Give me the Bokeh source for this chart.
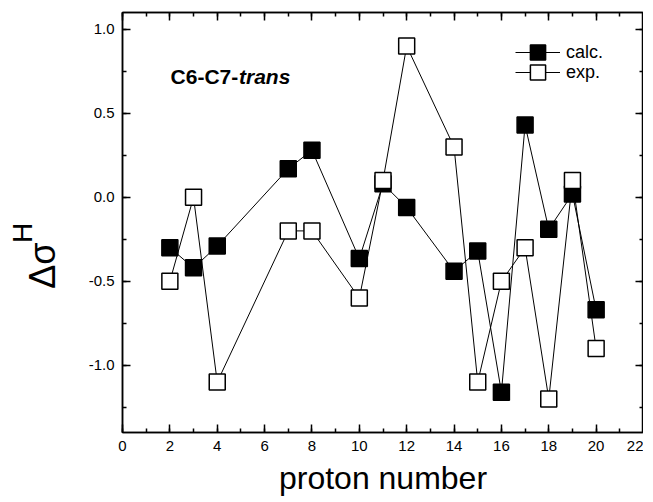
import math
from bokeh.plotting import figure
from bokeh.layouts import row
from bokeh.models import (LinearAxis, Label, Legend, LegendItem, Range1d,
                          SingleIntervalTicker, NumeralTickFormatter, CustomJSTickFormatter)
from bokeh.core.properties import value
from bokeh.embed import file_html
from bokeh.resources import INLINE

proton = [2, 3, 4, 7, 8, 10, 11, 12, 14, 15, 16, 17, 18, 19, 20]
calc = [-0.30, -0.42, -0.29, 0.17, 0.28, -0.365, 0.08, -0.06, -0.44, -0.32, -1.16, 0.43, -0.19, 0.02, -0.67]
exp_ = [-0.50, 0.00, -1.10, -0.20, -0.20, -0.60, 0.10, 0.90, 0.30, -1.10, -0.50, -0.30, -1.20, 0.10, -0.90]
x_tick_step = 2
y_tick_step = 0.5

FONT = "Liberation Sans"
LABEL_W = 70   # width of the strip that holds the y-axis title

p = figure(frame_width=521, frame_height=420, output_backend="svg", toolbar_location=None,
           x_range=Range1d(0, 22), y_range=Range1d(-1.4, 1.1),
           min_border_left=122 - LABEL_W, min_border_top=12, min_border_bottom=40, min_border_right=0,
           background_fill_color="white", border_fill_color="white")
p.grid.visible = False
p.outline_line_color = "black"
p.outline_line_width = 1.5


def style_axis(ax, labels=True):
    ax.axis_line_width = 1.5
    ax.axis_line_color = "black"
    ax.major_tick_in = 8
    ax.major_tick_out = 0
    ax.minor_tick_in = 4
    ax.minor_tick_out = 0
    ax.major_tick_line_width = 1.5
    ax.minor_tick_line_width = 1.5
    ax.major_tick_line_color = "black"
    ax.minor_tick_line_color = "black"
    if labels:
        ax.major_label_text_font = FONT
        ax.major_label_text_font_size = "15px"
        ax.major_label_text_color = "black"
    else:
        ax.formatter = CustomJSTickFormatter(code="return ''")
        ax.major_label_standoff = 0


p.xaxis.ticker = SingleIntervalTicker(interval=x_tick_step, num_minor_ticks=2)
p.yaxis.ticker = SingleIntervalTicker(interval=y_tick_step, num_minor_ticks=2)
style_axis(p.xaxis[0])
style_axis(p.yaxis[0])
p.yaxis.major_label_standoff = 8
p.xaxis.major_label_standoff = 8
p.yaxis.formatter = NumeralTickFormatter(format="0.0")
p.xaxis.axis_label = "proton number"
p.xaxis.axis_label_text_font = FONT
p.xaxis.axis_label_text_font_size = "32px"
p.xaxis.axis_label_text_font_style = "normal"
p.xaxis.axis_label_text_color = "black"
p.xaxis.axis_label_standoff = 6

top = LinearAxis(ticker=SingleIntervalTicker(interval=x_tick_step, num_minor_ticks=2))
right = LinearAxis(ticker=SingleIntervalTicker(interval=y_tick_step, num_minor_ticks=2))
style_axis(top, labels=False)
style_axis(right, labels=False)
p.add_layout(top, "above")
p.add_layout(right, "right")

# data
r1l = p.line(proton, calc, line_color="black", line_width=1)
r1m = p.scatter(proton, calc, marker="square", size=16, fill_color="black", line_color="black", line_width=1.5)
r2l = p.line(proton, exp_, line_color="black", line_width=1)
r2m = p.scatter(proton, exp_, marker="square", size=16, fill_color="white", line_color="black", line_width=1.5)


def make_legend(label, rends, loc):
    return Legend(items=[LegendItem(label=label, renderers=rends)],
                  location=loc, padding=0, margin=0, spacing=0,
                  glyph_width=45, glyph_height=38, label_standoff=6,
                  label_text_font=FONT, label_text_font_size="18px", label_text_color="black",
                  border_line_color=None, background_fill_alpha=0)


p.add_layout(make_legend("calc.", [r1l, r1m], (393, 361)))
p.add_layout(make_legend("exp.", [r2l, r2m], (393, 341)))

# annotation text
p.add_layout(Label(x=2.03, y=0.72, text="C6-C7-", text_font=FONT, text_font_size="21px",
                   text_font_style="bold", text_baseline="alphabetic", text_color="black"))
p.add_layout(Label(x=4.92, y=0.72, text="trans", text_font=FONT, text_font_size="21px",
                   text_font_style="bold italic", text_baseline="alphabetic", text_color="black"))

# strip on the left holding the y-axis title: Δσ with superscript H
q = figure(width=LABEL_W, height=500, output_backend="svg", toolbar_location=None,
           x_range=Range1d(0, LABEL_W), y_range=Range1d(500, 0),
           min_border=0, x_axis_type=None, y_axis_type=None,
           background_fill_color="white", border_fill_color="white")
q.grid.visible = False
q.outline_line_color = None
q.text(x=[41.5], y=[300], text=["Δσ"], angle=math.pi / 2, text_color="black",
       text_font=value(FONT), text_font_size="36px", text_align="center", text_baseline="middle")
q.text(x=[22], y=[261], text=["H"], angle=math.pi / 2, text_color="black",
       text_font=value(FONT), text_font_size="28px", text_align="center", text_baseline="middle")

layout = row(q, p, spacing=0)
open("out.html", "w").write(file_html(layout, INLINE))
